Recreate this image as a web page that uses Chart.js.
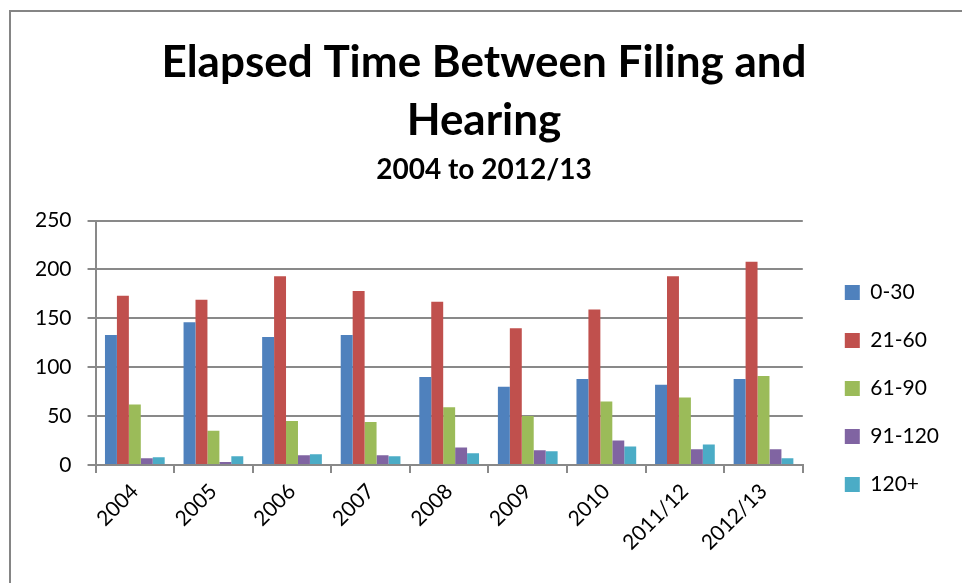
<!DOCTYPE html>
<html lang="en">
<head>
    <meta charset="UTF-8" />
    <title>Elapsed Time Between Filing and Hearing</title>
    <style>
        body {
            margin: 0;
            background-color: #ffffff;
            overflow: hidden;
        }

        /* grey frame round the chart, runs off the right and bottom edge */
        #frame {
            position: absolute;
            left: 9px;
            top: 10px;
            width: 1000px;
            height: 700px;
            border: 2px solid #858585;
        }

        #chartBox {
            position: absolute;
            left: 0;
            top: 0;
            width: 962px;
            height: 583px;
        }
    </style>
</head>
<body>
<div id="frame"></div>
<div id="chartBox">
    <canvas id="chartContainer"></canvas>
</div>

<script src="https://cdn.jsdelivr.net/npm/chart.js"></script>
<script>
    // Years on the x axis
    const categories = ["2004", "2005", "2006", "2007", "2008", "2009", "2010", "2011/12", "2012/13"];

    // Number of cases by elapsed days
    const days0to30   = [133, 146, 131, 133, 90, 80, 88, 82, 88];
    const days21to60  = [173, 169, 193, 178, 167, 140, 159, 193, 208];
    const days61to90  = [62, 35, 45, 44, 59, 50, 65, 69, 91];
    const days91to120 = [7, 3, 10, 10, 18, 15, 25, 16, 16];
    const days120plus = [8, 9, 11, 9, 12, 14, 19, 21, 7];

    const seriesNames = ["0-30", "21-60", "61-90", "91-120", "120+"];
    const seriesColors = ["#4F81BD", "#C0504D", "#9BBB59", "#8064A2", "#4BACC6"];

    // y axis ticks
    const yTicks = [0, 50, 100, 150, 200, 250];

    const fontFamily = "Lato, 'Open Sans', sans-serif";
    const gridColor = "#898989";

    const allSeries = [days0to30, days21to60, days61to90, days91to120, days120plus];

    function drawChart() {
        const ctx = document.getElementById("chartContainer").getContext("2d");

        window.myChart = new Chart(ctx, {
            type: "bar",
            data: {
                labels: categories,
                datasets: allSeries.map((values, i) => ({
                    label: seriesNames[i],
                    data: values,
                    backgroundColor: seriesColors[i],
                    borderWidth: 0,
                    categoryPercentage: 0.76,
                    barPercentage: 1.0,
                    yAxisID: "y",
                })),
            },
            options: {
                responsive: true,
                maintainAspectRatio: false,
                animation: false,
                layout: {
                    padding: { top: 0, left: 19, right: 13, bottom: 0 },
                },
                plugins: {
                    title: {
                        display: true,
                        text: ["Elapsed Time Between Filing and", "Hearing"],
                        color: "#000000",
                        font: { family: fontFamily, size: 44, weight: "bold", lineHeight: 1.318 },
                        padding: { top: 34, bottom: 0 },
                    },
                    subtitle: {
                        display: true,
                        text: "2004 to 2012/13",
                        color: "#000000",
                        font: { family: fontFamily, size: 28, weight: "bold", lineHeight: 1.2 },
                        padding: { top: 3, bottom: 34 },
                    },
                    legend: {
                        position: "right",
                        align: "start",
                        // empty title only pushes the items down
                        title: {
                            display: true,
                            text: "",
                            font: { size: 10, lineHeight: 1 },
                            padding: { top: 245, bottom: 0 },
                        },
                        labels: {
                            color: "#000000",
                            font: { family: fontFamily, size: 21 },
                            boxWidth: 15,
                            boxHeight: 15,
                            padding: 27,
                        },
                    },
                    tooltip: { enabled: false },
                },
                scales: {
                    x: {
                        grid: {
                            display: true,
                            drawOnChartArea: false,
                            color: gridColor,
                            lineWidth: 2,
                            tickLength: 8,
                        },
                        border: { color: gridColor, width: 2 },
                        ticks: {
                            color: "#000000",
                            font: { family: fontFamily, size: 21 },
                            minRotation: 45,
                            maxRotation: 45,
                            padding: 6,
                        },
                        afterFit: (scale) => {
                            scale.height = 118;
                            scale.paddingLeft = 0;
                            scale.paddingRight = 0;
                        },
                    },
                    y: {
                        min: 0,
                        max: 250,
                        afterBuildTicks: (scale) => {
                            scale.ticks = yTicks.map((v) => ({ value: v }));
                        },
                        grid: {
                            color: gridColor,
                            lineWidth: 2,
                            tickLength: 8,
                        },
                        border: { color: gridColor, width: 2 },
                        ticks: {
                            color: "#000000",
                            font: { family: fontFamily, size: 21 },
                            padding: 16,
                        },
                    },
                    // empty axis on the right, keeps a gap before the legend
                    gap: {
                        type: "linear",
                        position: "right",
                        display: true,
                        grid: { display: false },
                        border: { display: false },
                        ticks: { display: false },
                        afterFit: (scale) => {
                            scale.width = 15;
                        },
                    },
                },
            },
        });
    }

    window.onload = drawChart;
</script>
</body>
</html>
